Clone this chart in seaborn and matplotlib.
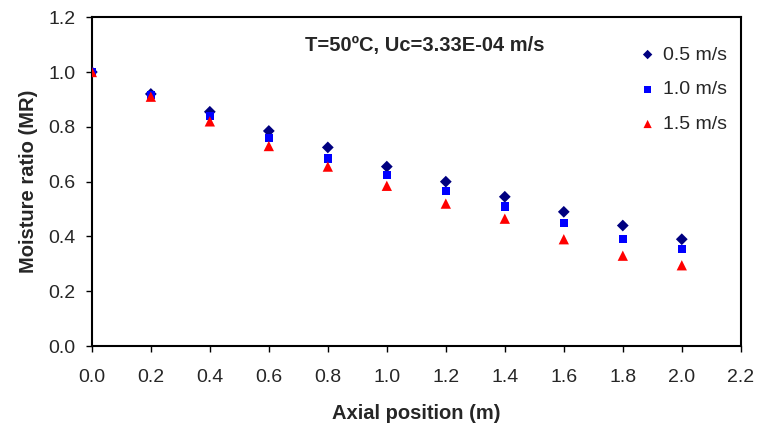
import matplotlib
matplotlib.use("Agg")
import matplotlib.pyplot as plt
import seaborn as sns
import pandas as pd

positions = [0.0, 0.2, 0.4, 0.6, 0.8, 1.0, 1.2, 1.4, 1.6, 1.8, 2.0]
mr_05 = [1.0, 0.92, 0.855, 0.785, 0.725, 0.655, 0.60, 0.545, 0.49, 0.44, 0.39]
mr_10 = [1.0, 0.915, 0.84, 0.76, 0.685, 0.625, 0.565, 0.51, 0.45, 0.39, 0.355]
mr_15 = [1.0, 0.91, 0.82, 0.73, 0.655, 0.585, 0.52, 0.465, 0.39, 0.33, 0.295]
series_names = ["0.5 m/s", "1.0 m/s", "1.5 m/s"]
x_ticks = [0.0, 0.2, 0.4, 0.6, 0.8, 1.0, 1.2, 1.4, 1.6, 1.8, 2.0, 2.2]
y_ticks = [0.0, 0.2, 0.4, 0.6, 0.8, 1.0, 1.2]

frames = []
for name, vals in zip(series_names, [mr_05, mr_10, mr_15]):
    frames.append(pd.DataFrame({"x": positions, "y": vals, "series": name}))
df = pd.concat(frames, ignore_index=True)

sns.set_style("white")
plt.rcParams['font.family'] = ['Liberation Sans', 'DejaVu Sans']

fig = plt.figure(figsize=(7.59, 4.30), dpi=100)
ax = fig.add_axes([0.121, 0.195, 0.855, 0.765])

palette = {"0.5 m/s": "#000080", "1.0 m/s": "#0000FF", "1.5 m/s": "#FF0000"}
markers = {"0.5 m/s": "D", "1.0 m/s": "s", "1.5 m/s": "^"}
sizes = {"0.5 m/s": 36, "1.0 m/s": 36, "1.5 m/s": 55}
for name in series_names:
    sub = df[df["series"] == name]
    sns.scatterplot(data=sub, x="x", y="y", ax=ax, color=palette[name],
                    marker=markers[name], s=sizes[name], edgecolor="none",
                    label=name, zorder=3)

ax.set_xlim(0, 2.2)
ax.set_ylim(0, 1.2)
ax.set_xticks(x_ticks)
ax.set_yticks(y_ticks)
ax.set_xticklabels([f"{v:.1f}" for v in x_ticks], fontsize=14)
ax.set_yticklabels([f"{v:.1f}" for v in y_ticks], fontsize=14)
ax.tick_params(axis="both", direction="out", length=4, width=1, color="black",
               bottom=True, left=True)
ax.tick_params(axis="x", pad=12.5)
ax.tick_params(axis="y", pad=8)
for sp in ax.spines.values():
    sp.set_visible(True)
    sp.set_color("black")
    sp.set_linewidth(1.5)

ax.set_xlabel("Axial position (m)", fontsize=14.5, fontweight="bold")
ax.set_ylabel("Moisture ratio (MR)", fontsize=14.5, fontweight="bold")
ax.xaxis.label.set_va("center")
ax.yaxis.label.set_va("center")
ax.xaxis.set_label_coords(0.5, -0.204)
ax.yaxis.set_label_coords(-0.098, 0.5)
ax.text(0.513, 0.915, "T=50ºC, Uc=3.33E-04 m/s", transform=ax.transAxes,
        ha="center", va="center", fontsize=14.5, fontweight="bold")

leg = ax.legend(loc="upper right", bbox_to_anchor=(0.991, 0.936), frameon=False,
                fontsize=14, handletextpad=0.3, labelspacing=0.88,
                handlelength=1.0, markerscale=0.8, borderaxespad=0)

fig.savefig("out.png", dpi=100)
